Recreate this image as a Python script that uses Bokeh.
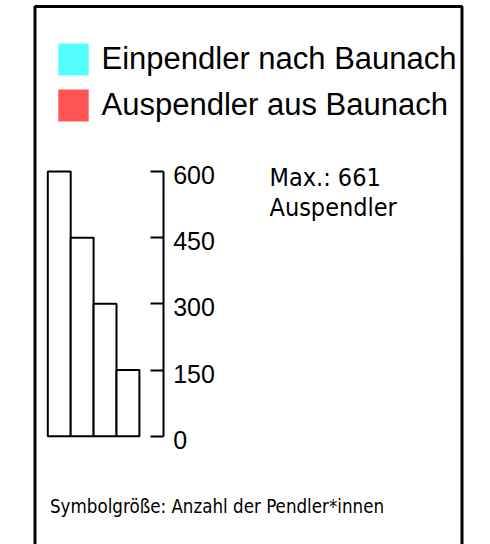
from bokeh.plotting import figure
from bokeh.models import (Range1d, LinearAxis, FixedTicker, Legend, LegendItem)
from bokeh.core.properties import value
from bokeh.embed import file_html
from bokeh.resources import INLINE

# ---- data ----
legend_labels = ["Einpendler nach Baunach", "Auspendler aus Baunach"]
legend_colors = ["#55ffff", "#ff5555"]
scale_values = [600, 450, 300, 150]
tick_values = [0, 150, 300, 450, 600]
max_value = 661
max_label = "Auspendler"
footnote = "Symbolgröße: Anzahl der Pendler*innen"

W, H = 490, 544
k = (435.7 - 171.0) / 600.0          # px per unit
y0 = -(H - 435.7) / k
y1 = 435.7 / k
lbl_shift = 3.5 / k                  # labels sit a little below their ticks
nan = float("nan")

p = figure(width=W, height=H, output_backend="svg", toolbar_location=None,
           x_range=Range1d(0, W), y_range=Range1d(y0, y1),
           x_axis_type=None, y_axis_type=None, min_border=0,
           outline_line_color=None, margin=(0, 0, 0, 0))
p.extra_y_ranges = {"px": Range1d(H, 0),
                    "lbl": Range1d(y0 + lbl_shift, y1 + lbl_shift)}
p.xgrid.visible = False
p.ygrid.visible = False
p.background_fill_color = "white"
p.border_fill_color = "white"

# outer frame
p.quad(left=[34.5], right=[461.5], top=[6], bottom=[H + 20], y_range_name="px",
       fill_color=None, line_color="black", line_width=3)

# scale bars
bx0, bw = 47.3, 22.9
lefts = [bx0 + i * bw for i in range(len(scale_values))]
rights = [l + bw for l in lefts]
p.quad(left=lefts, right=rights, bottom=[0] * len(scale_values), top=scale_values,
       fill_color="white", line_color="black", line_width=2)

# scale axis (line + ticks)
ax = LinearAxis(fixed_location=162.7, ticker=FixedTicker(ticks=tick_values),
                bounds=(0, 600), major_tick_in=13, major_tick_out=0,
                minor_tick_in=0, minor_tick_out=0,
                axis_line_width=2, major_tick_line_width=2,
                axis_line_color="black", major_tick_line_color="black",
                major_label_text_alpha=0, major_label_text_font_size="25px")
p.add_layout(ax, "right")

# scale axis labels
ax_lbl = LinearAxis(y_range_name="lbl", fixed_location=162.7,
                    ticker=FixedTicker(ticks=tick_values),
                    major_tick_in=0, major_tick_out=0,
                    minor_tick_in=0, minor_tick_out=0,
                    axis_line_color=None, major_tick_line_color=None,
                    major_label_standoff=10,
                    major_label_text_font="Liberation Sans",
                    major_label_text_font_size="25px",
                    major_label_text_color="black")
p.add_layout(ax_lbl, "right")

# legend
r1 = p.quad(left=[nan], right=[nan], top=[nan], bottom=[nan],
            fill_color=legend_colors[0], line_color=None)
r2 = p.quad(left=[nan], right=[nan], top=[nan], bottom=[nan],
            fill_color=legend_colors[1], line_color=None)
leg = Legend(items=[LegendItem(label=legend_labels[0], renderers=[r1]),
                    LegendItem(label=legend_labels[1], renderers=[r2])],
             location=(53.5, 419), glyph_width=38, glyph_height=40,
             label_height=40, spacing=6, padding=0, margin=0,
             label_standoff=10, border_line_color=None, background_fill_alpha=0,
             label_text_font="Liberation Sans", label_text_font_size="31px",
             label_text_color="black")
p.add_layout(leg, "center")

# max text
p.text(x=[269, 269], y=[176.7, 207.3], text=[f"Max.: {max_value}", max_label],
       y_range_name="px", text_font=value("DejaVu Sans Condensed, DejaVu Sans"),
       text_font_size="25px", text_baseline="alphabetic", text_align="left",
       text_color="black")

# footnote
p.text(x=[49.5], y=[505.7], text=[footnote], y_range_name="px",
       text_font=value("DejaVu Sans Condensed, DejaVu Sans"),
       text_font_size="18.6px", text_baseline="alphabetic", text_align="left",
       text_color="black")

open("out.html", "w").write(file_html(p, INLINE))
